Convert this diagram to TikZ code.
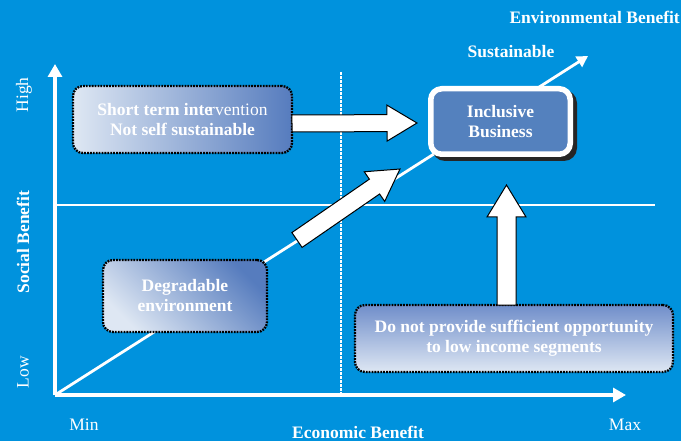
\documentclass[tikz,border=0pt]{standalone}
\usepackage{fontspec}
\setmainfont{Liberation Serif}
\usetikzlibrary{calc,arrows.meta}
\definecolor{bg}{RGB}{0,146,221}
\definecolor{boxdark}{RGB}{86,124,190}
\definecolor{boxmid}{RGB}{112,142,202}
\definecolor{boxlight}{RGB}{222,231,243}
\definecolor{inclfill}{RGB}{84,129,190}
\newcommand{\blockarrow}[5]{%
  \coordinate (hb) at ($(#2)!#5!(#1)$);
  \draw[barrow] ($(#1)!#3!90:(#2)$) -- ($(hb)!#3!90:(#2)$) -- ($(hb)!#4!90:(#2)$) -- (#2)
    -- ($(hb)!#4!-90:(#2)$) -- ($(hb)!#3!-90:(#2)$) -- ($(#1)!#3!-90:(#2)$) -- cycle;}
\begin{document}
\begin{tikzpicture}[x=1pt,y=-1pt,
  lab/.style={text=white, font=\fontsize{17.5}{20}\selectfont\bfseries, align=center, inner sep=0pt},
  axlab/.style={text=white, font=\fontsize{17.5}{20}\selectfont, inner sep=0pt},
  gbox/.style={draw=black, line width=2.3pt, dash pattern=on 1.8pt off 1.1pt, rounded corners=10pt,
    inner sep=0pt, text=white, font=\fontsize{17.5}{20}\selectfont\bfseries, align=center},
  axis/.style={white, line width=3.2pt, -{Triangle[width=14pt,length=13pt]}},
  barrow/.style={draw=black, fill=white, line width=1pt, line join=miter}]
\useasboundingbox (0,0) rectangle (681,441);
\fill[bg] (0,0) rectangle (681,441);

% reference lines
\draw[white, line width=1.4pt] (55,205) -- (655,205);
\draw[white, line width=1.1pt, dash pattern=on 3pt off 1pt] (341,72) -- (341,394);

% axes
\coordinate (O) at (55,395);
\coordinate (Ytip) at (55,64);
\coordinate (Xtip) at (626,395);
\coordinate (Dtip) at (588,56);
\draw[axis] (O) -- (Ytip);
\draw[axis] (O) -- (Xtip);
\draw[white, line width=2.8pt, -{Triangle[width=12pt,length=11pt]}] (O) -- (Dtip);

% axis labels
\node[axlab, rotate=90] (high) at (24,95) {High};
\node[lab, rotate=90] (social) at (23,242) {Social Benefit};
\node[axlab, rotate=90] (low) at (23,372) {Low};
\node[axlab] (min) at (84,425) {Min};
\node[axlab] (max) at (625,425) {Max};
\node[lab] (econ) at (358,432) {Economic Benefit};
\node[lab, anchor=east] (env) at (680,17) {Environmental Benefit};
\node[lab] (sust) at (511,52) {Sustainable};

% boxes
\node[gbox, minimum width=219pt, minimum height=67pt, left color=boxlight, right color=boxdark]
  (short) at (182.5,119.5) {Short term inte\kern-3pt\textmd{rvention}\\Not self sustainable};
\node[gbox, minimum width=164pt, minimum height=72pt, top color=boxdark, bottom color=boxlight, shading angle=-45]
  (degr) at (185,296) {Degradable\\environment};
\node[gbox, minimum width=318pt, minimum height=67pt, top color=boxmid, bottom color=boxlight]
  (notprov) at (514,338.5) {Do not provide sufficient opportunity\\to low income segments};

% inclusive business
\fill[black!85, rounded corners=13pt] (432,90) rectangle (577,161);
\node[draw=white, line width=5.5pt, fill=inclfill, rounded corners=11pt, minimum width=139.5pt,
  minimum height=65.5pt, inner sep=0pt, text=white, font=\fontsize{17.5}{20}\selectfont\bfseries, align=center]
  (incl) at (500.5,121.5) {Inclusive\\Business};

% block arrows
\coordinate (aT) at (292,123.5);
\coordinate (aH) at (417,123);
\blockarrow{aT}{aH}{8.5pt}{18pt}{30pt}
\coordinate (bT) at (297,240);
\coordinate (bH) at (400,169);
\blockarrow{bT}{bH}{9pt}{18pt}{31pt}
\coordinate (cT) at (506.5,305);
\coordinate (cH) at (506.5,185);
\blockarrow{cT}{cH}{9.5pt}{19.5pt}{32pt}
\end{tikzpicture}
\end{document}
